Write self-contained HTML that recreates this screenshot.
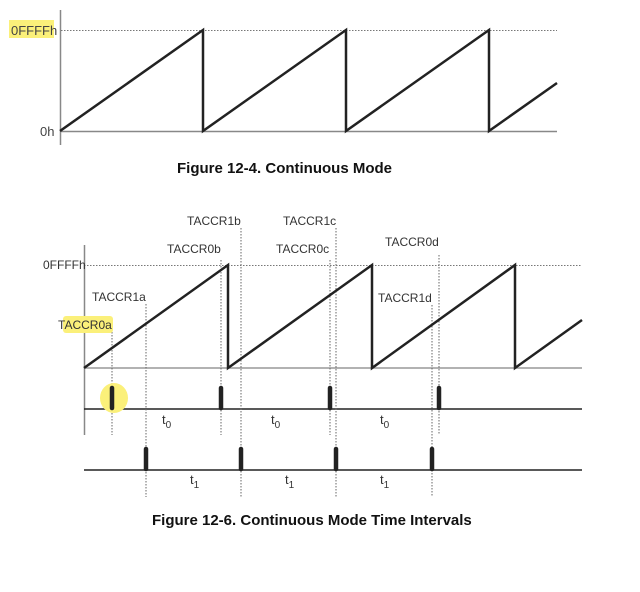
<!DOCTYPE html>
<html><head><meta charset="utf-8"><style>
html,body{margin:0;padding:0;background:#fff;}
svg{display:block;font-family:"Liberation Sans",Arial,sans-serif;}
</style></head><body>
<svg width="640" height="592" viewBox="0 0 640 592" xmlns="http://www.w3.org/2000/svg">
<!-- Figure 12-4 -->
<rect x="9" y="20" width="45" height="18" fill="#fbf07a"/>
<text x="11" y="35" font-size="13" fill="#444">0FFFFh</text>
<text x="40" y="136" font-size="13" fill="#444">0h</text>
<line x1="60.5" y1="10" x2="60.5" y2="145" stroke="#888" stroke-width="1.5"/>
<line x1="61" y1="30.5" x2="557" y2="30.5" stroke="#777" stroke-width="1" stroke-dasharray="1.5,1.5"/>
<line x1="60" y1="131.5" x2="557" y2="131.5" stroke="#888" stroke-width="1.5"/>
<polyline points="60,131 203,30 203,131 346,30 346,131 489,30 489,131 557,83" fill="none" stroke="#222" stroke-width="2.5" stroke-linejoin="miter"/>
<text x="177" y="173" font-size="15" font-weight="bold" fill="#111">Figure 12-4. Continuous Mode</text>

<!-- Figure 12-6 -->
<line x1="84.5" y1="245" x2="84.5" y2="435" stroke="#888" stroke-width="1.5"/>
<line x1="84" y1="265.5" x2="582" y2="265.5" stroke="#777" stroke-width="1" stroke-dasharray="1.5,1.5"/>
<line x1="84" y1="368" x2="582" y2="368" stroke="#999" stroke-width="1.5"/>
<line x1="84" y1="409" x2="582" y2="409" stroke="#222" stroke-width="1.5"/>
<line x1="84" y1="470" x2="582" y2="470" stroke="#222" stroke-width="1.5"/>
<g stroke="#666" stroke-width="1" stroke-dasharray="1.5,1.5">
<line x1="112" y1="332" x2="112" y2="435"/>
<line x1="221" y1="260" x2="221" y2="435"/>
<line x1="330" y1="260" x2="330" y2="435"/>
<line x1="439" y1="255" x2="439" y2="435"/>
<line x1="146" y1="304" x2="146" y2="497"/>
<line x1="241" y1="228" x2="241" y2="497"/>
<line x1="336" y1="228" x2="336" y2="497"/>
<line x1="432" y1="305" x2="432" y2="497"/>
</g>
<polyline points="84,368 228,265 228,368 372,265 372,368 515,265 515,368 582,320" fill="none" stroke="#222" stroke-width="2.5"/>
<ellipse cx="114" cy="398" rx="14" ry="15" fill="#fbf07a"/>
<g stroke="#222" stroke-width="4.5" stroke-linecap="round">
<line x1="112" y1="388" x2="112" y2="408"/>
<line x1="221" y1="388" x2="221" y2="408"/>
<line x1="330" y1="388" x2="330" y2="408"/>
<line x1="439" y1="388" x2="439" y2="408"/>
<line x1="146" y1="449" x2="146" y2="469"/>
<line x1="241" y1="449" x2="241" y2="469"/>
<line x1="336" y1="449" x2="336" y2="469"/>
<line x1="432" y1="449" x2="432" y2="469"/>
</g>
<g font-size="12" fill="#333">
<text x="187" y="225">TACCR1b</text>
<text x="167" y="253">TACCR0b</text>
<text x="283" y="225">TACCR1c</text>
<text x="276" y="253">TACCR0c</text>
<text x="385" y="246">TACCR0d</text>
<text x="92" y="301">TACCR1a</text>
<text x="378" y="302">TACCR1d</text>
<text x="43" y="269">0FFFFh</text>
</g>
<rect x="63" y="316" width="50" height="17" rx="3" fill="#fbf07a"/>
<text x="58" y="329" font-size="12" fill="#333">TACCR0a</text>
<g font-size="13" fill="#333">
<text x="162" y="424">t<tspan font-size="10" dy="4">0</tspan></text>
<text x="271" y="424">t<tspan font-size="10" dy="4">0</tspan></text>
<text x="380" y="424">t<tspan font-size="10" dy="4">0</tspan></text>
<text x="190" y="484">t<tspan font-size="10" dy="4">1</tspan></text>
<text x="285" y="484">t<tspan font-size="10" dy="4">1</tspan></text>
<text x="380" y="484">t<tspan font-size="10" dy="4">1</tspan></text>
</g>
<text x="152" y="525" font-size="15" font-weight="bold" fill="#111">Figure 12-6. Continuous Mode Time Intervals</text>
</svg>
</body></html>
